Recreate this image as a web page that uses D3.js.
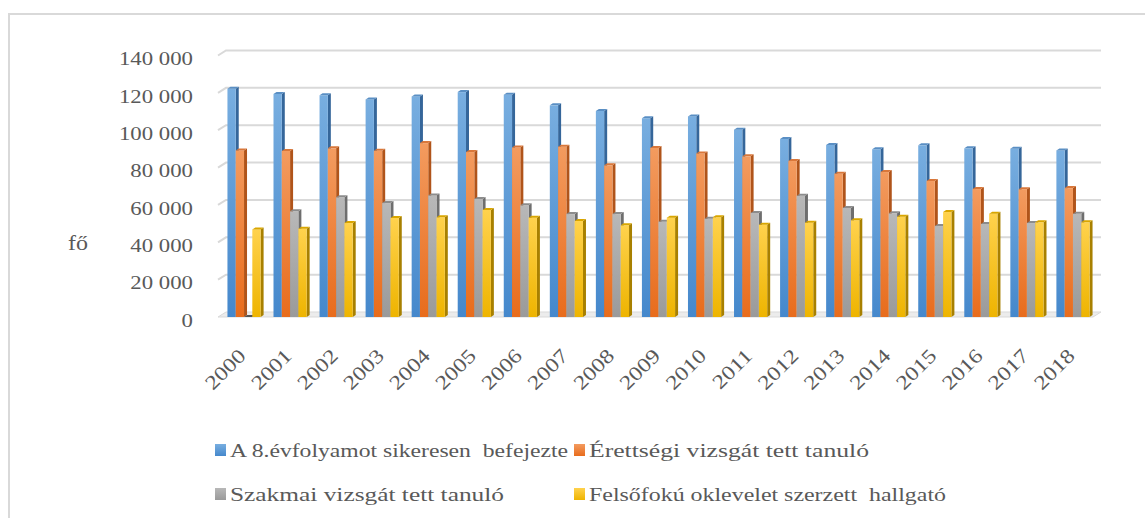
<!DOCTYPE html>
<html>
<head>
<meta charset="utf-8">
<script src="https://cdn.jsdelivr.net/npm/d3@7"></script>
<style>
  body { margin: 0; background: #fff; }
  svg text { font-family: "Liberation Serif", "Times New Roman", Times, serif; fill: #595959; }
</style>
</head>
<body>
<div id="chart"></div>
<script>
const years = ["2000", "2001", "2002", "2003", "2004", "2005", "2006", "2007", "2008", "2009",
  "2010", "2011", "2012", "2013", "2014", "2015", "2016", "2017", "2018"];
const seriesNames = ["A 8.évfolyamot sikeresen  befejezte", "Érettségi vizsgát tett tanuló",
  "Szakmai vizsgát tett tanuló", "Felsőfokú oklevelet szerzett  hallgató"];
const elemi = [122200, 119400, 118700, 116500, 118100, 120400, 119000, 113300, 110300, 106400,
  107400, 100300, 95300, 92100, 89800, 91900, 90300, 90100, 89200];
const erettsegi = [89200, 88900, 90300, 89000, 93100, 88300, 90800, 91200, 81200, 90500,
  87600, 86000, 83500, 76700, 77600, 72800, 68500, 68400, 69000];
const szakmai = [0, 56600, 64100, 61000, 65100, 63200, 59800, 55100, 55100, 51000,
  52600, 55700, 64900, 58400, 55500, 48700, 49800, 50300, 55300];
const felsofoku = [46900, 47300, 50300, 53000, 53400, 57300, 53200, 51400, 49100, 53200,
  53400, 49400, 50500, 51800, 53700, 56200, 55300, 50700, 50700];
const yTicks = [0, 20000, 40000, 60000, 80000, 100000, 120000, 140000];

const series = [elemi, erettsegi, szakmai, felsofoku];
// front gradient top/bottom, side face and cap colour per series
const colors = [
  { top: "#78aee0", bottom: "#4588cc", side: "#35669a", cap: "#5a8fc4" },
  { top: "#f39b5f", bottom: "#e86c1c", side: "#b0541a", cap: "#d9773a" },
  { top: "#b8b8b8", bottom: "#9a9a9a", side: "#6e6e6e", cap: "#8c8c8c" },
  { top: "#ffd24d", bottom: "#eeb400", side: "#a88000", cap: "#d9a600" }
];
const serif = '"Liberation Serif", "Times New Roman", Times, serif';

const width = 1145, height = 518;
const svg = d3.select("#chart").append("svg")
  .attr("width", width)
  .attr("height", height)
  .attr("font-family", serif);

const defs = svg.append("defs");
colors.forEach((c, i) => {
  const g = defs.append("linearGradient")
    .attr("id", "grad" + i)
    .attr("x1", 0).attr("y1", 0).attr("x2", 0).attr("y2", 1);
  g.append("stop").attr("offset", "0%").attr("stop-color", c.top);
  g.append("stop").attr("offset", "100%").attr("stop-color", c.bottom);
});

// chart border
svg.append("path")
  .attr("d", `M9,${height} L9,14 L${width},14`)
  .attr("fill", "none")
  .attr("stroke", "#d9d9d9")
  .attr("stroke-width", 2);

const floorY = 317, plotLeft = 218, plotRight = 1093;
const depthX = 8, depthY = -5;

const y = d3.scaleLinear().domain([0, 140000]).range([floorY, 55.5]);
const x0 = d3.scaleBand().domain(years).range([221, 1096]).paddingInner(0.28).paddingOuter(0.14);
const x1 = d3.scaleBand().domain(d3.range(4)).range([0, x0.bandwidth()]);

const fmt = d3.formatLocale({ decimal: ",", thousands: " ", grouping: [3], currency: ["", ""] }).format(",d");

// floor
svg.append("path")
  .attr("d", `M${plotLeft},${floorY} L${plotRight},${floorY} L${plotRight + depthX},${floorY + depthY} L${plotLeft + depthX},${floorY + depthY} Z`)
  .attr("fill", "#ececec")
  .attr("stroke", "#d9d9d9")
  .attr("stroke-width", 1);

// gridlines on the back wall
svg.append("g").selectAll("path")
  .data(yTicks.slice(1))
  .join("path")
  .attr("d", t => `M${plotLeft},${y(t)} L${plotLeft + depthX},${y(t) + depthY} L${plotRight + depthX},${y(t) + depthY}`)
  .attr("fill", "none")
  .attr("stroke", "#d9d9d9")
  .attr("stroke-width", 2);

// y labels
svg.append("g").selectAll("g")
  .data(yTicks)
  .join("g")
  .attr("transform", t => `translate(193,${y(t) + 3}) scale(1.2,1)`)
  .append("text")
  .attr("text-anchor", "end")
  .attr("dy", "0.35em")
  .attr("font-size", "19px")
  .attr("font-family", serif)
  .text(t => fmt(t));

svg.append("g")
  .attr("transform", "translate(68,250) scale(1.2,1)")
  .append("text")
  .attr("font-size", "20px")
  .attr("font-family", serif)
  .text("fő");

// bars
const sideW = 3, sideH = -2;
const bars = svg.append("g");
years.forEach((yr, i) => {
  series.forEach((s, k) => {
    const v = s[i];
    const bx = x0(yr) + x1(k), bw = x1.bandwidth();
    const top = y(v), bot = floorY;
    const c = colors[k];
    const g = bars.append("g");
    g.append("path")
      .attr("d", `M${bx + bw},${top} L${bx + bw + sideW},${top + sideH} L${bx + bw + sideW},${bot + sideH} L${bx + bw},${bot} Z`)
      .attr("fill", c.side);
    if (bot - top > 0) {
      g.append("rect")
        .attr("x", bx).attr("y", top)
        .attr("width", bw).attr("height", bot - top)
        .attr("fill", `url(#grad${k})`);
    }
    g.append("path")
      .attr("d", `M${bx},${top} L${bx + sideW},${top + sideH} L${bx + bw + sideW},${top + sideH} L${bx + bw},${top} Z`)
      .attr("fill", v > 0 ? c.cap : "#555");
  });
});

// year labels
svg.append("g").selectAll("g")
  .data(years)
  .join("g")
  .attr("transform", d => `translate(${x0(d) + x0.bandwidth() / 2 + 3},357) rotate(-45) scale(1.2,1)`)
  .append("text")
  .attr("text-anchor", "end")
  .attr("font-size", "20px")
  .attr("font-family", serif)
  .text(d => d);

// legend
const legendPos = [
  { mx: 215, tx: 230, base: 457, len: 338 },
  { mx: 574, tx: 589, base: 457, len: 280 },
  { mx: 215, tx: 230, base: 501, len: 274 },
  { mx: 574, tx: 589, base: 501, len: 357 }
];
const legend = svg.append("g");
seriesNames.forEach((name, k) => {
  const p = legendPos[k];
  legend.append("rect")
    .attr("x", p.mx).attr("y", p.base - 13)
    .attr("width", 11).attr("height", 12)
    .attr("fill", `url(#grad${k})`);
  legend.append("text")
    .attr("x", p.tx).attr("y", p.base)
    .attr("font-size", "19px")
    .attr("font-family", serif)
    .attr("textLength", p.len)
    .attr("lengthAdjust", "spacingAndGlyphs")
    .style("white-space", "pre")
    .text(name);
});
</script>
</body>
</html>
